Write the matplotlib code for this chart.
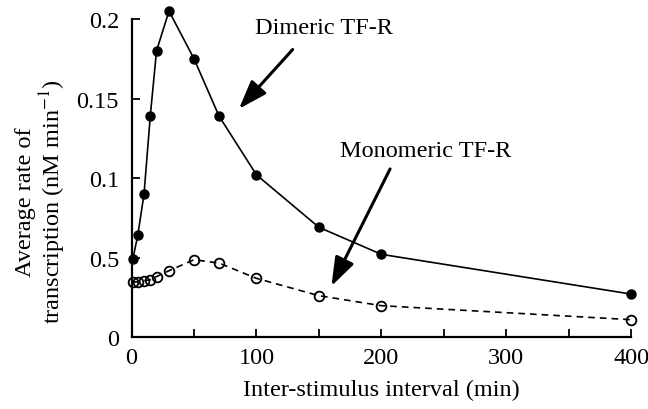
import matplotlib
matplotlib.use("Agg")
import matplotlib.pyplot as plt
from matplotlib.ticker import MultipleLocator

# inter-stimulus interval (min)
interval = [1, 5, 10, 15, 20, 30, 50, 70, 100, 150, 200, 400]
dimeric = [0.049, 0.064, 0.090, 0.139, 0.180, 0.205, 0.175, 0.139, 0.102, 0.069, 0.052, 0.027]
monomeric = [0.0344, 0.0348, 0.0354, 0.036, 0.038, 0.0417, 0.0486, 0.0465, 0.0369, 0.026, 0.0197, 0.0109]

xticks = [0, 100, 200, 300, 400]
yticks = [0, 0.05, 0.1, 0.15, 0.2]
ytick_labels = ["0", "0.5", "0.1", "0.15", "0.2"]

plt.rcParams["font.family"] = ["Liberation Serif", "DejaVu Serif"]
plt.rcParams["mathtext.fontset"] = "stix"
plt.rcParams["font.size"] = 17.5

fig = plt.figure(figsize=(6.48, 4.10), dpi=100)
ax = fig.add_axes([0.203, 0.1756, 0.771, 0.7756])

ax.plot(interval, dimeric, "-", color="black", lw=1.2, marker="o",
        ms=6.5, mfc="black", mec="black", clip_on=False, zorder=3)
ax.plot(interval, monomeric, "--", color="black", lw=1.2, dashes=(4, 3),
        marker="o", ms=7, mfc="none", mec="black", mew=1.3,
        clip_on=False, zorder=3)

ax.set_xlim(0, 400)
ax.set_ylim(0, 0.2)
ax.set_xticks(xticks)
ax.xaxis.set_minor_locator(MultipleLocator(50))
ax.set_yticks(yticks)
ax.set_yticklabels(ytick_labels)

for side in ("top", "right"):
    ax.spines[side].set_visible(False)
for side in ("left", "bottom"):
    ax.spines[side].set_linewidth(1.6)
ax.tick_params(axis="both", which="both", direction="in", length=6, width=1.3)
ax.tick_params(axis="x", pad=7)
ax.tick_params(axis="y", pad=9)

ax.set_xlabel("Inter-stimulus interval (min)", labelpad=8)
fig.text(0.064, 0.508, "Average rate of\ntranscription (nM min$^{-1}$)",
         rotation=90, ha="center", va="center", multialignment="center",
         linespacing=1.1)

# arrows and labels, in data coordinates
ax.annotate("", xy=(86, 0.1435), xytext=(129, 0.1808),
            arrowprops=dict(arrowstyle="-|>,head_length=1.0,head_width=0.35",
                            color="black", lw=2.2, shrinkA=0, shrinkB=0))
ax.text(99, 0.1945, "Dimeric TF-R", ha="left", va="center")

ax.annotate("", xy=(160, 0.032), xytext=(207, 0.1057),
            arrowprops=dict(arrowstyle="-|>,head_length=1.0,head_width=0.35",
                            color="black", lw=2.2, shrinkA=0, shrinkB=0))
ax.text(167, 0.1172, "Monomeric TF-R", ha="left", va="center")

fig.savefig("out.png", dpi=100)
